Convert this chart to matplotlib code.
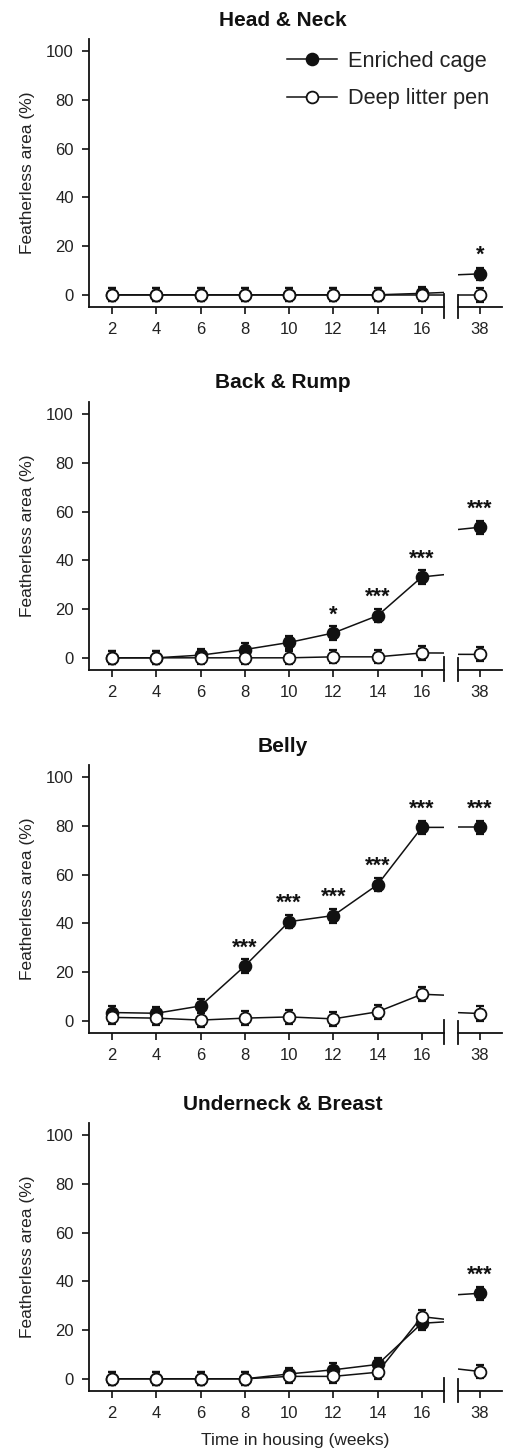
import numpy as np
import matplotlib
matplotlib.use('Agg')
import matplotlib.pyplot as plt
from matplotlib.lines import Line2D

plt.rcParams['font.family'] = ['Liberation Sans', 'DejaVu Sans']

# data
weeks = [2, 4, 6, 8, 10, 12, 14, 16, 38]
week_labels = ['2', '4', '6', '8', '10', '12', '14', '16', '38']
titles = ['Head & Neck', 'Back & Rump', 'Belly', 'Underneck & Breast']

head_cage = [0, 0, 0, 0, 0, 0, 0, 0.6, 8.6]
head_pen = [0, 0, 0, 0, 0, 0, 0, 0, 0]
head_cage_se = [2.7, 2.7, 2.7, 2.7, 2.7, 2.7, 2.7, 2.7, 2.6]
head_pen_se = [2.7, 2.7, 2.7, 2.7, 2.7, 2.7, 2.7, 2.7, 2.8]
head_sig = ['', '', '', '', '', '', '', '', '*']

back_cage = [0, 0, 1.1, 3.4, 6.3, 10.2, 17.3, 33.2, 53.6]
back_pen = [0, 0, 0, 0, 0, 0.4, 0.4, 2.0, 1.4]
back_cage_se = [2.7, 2.7, 2.7, 2.7, 2.8, 2.9, 2.8, 2.7, 2.6]
back_pen_se = [2.7, 2.7, 2.7, 2.7, 2.7, 2.7, 2.7, 2.8, 2.9]
back_sig = ['', '', '', '', '', '*', '***', '***', '***']

belly_cage = [3.4, 3.1, 6.1, 22.5, 40.7, 43.2, 55.9, 79.4, 79.4]
belly_pen = [1.4, 1.1, 0.3, 1.1, 1.6, 0.8, 3.7, 10.9, 3.0]
belly_cage_se = [2.6, 2.6, 2.7, 2.8, 2.8, 2.9, 2.8, 2.6, 2.6]
belly_pen_se = [2.7, 2.7, 2.8, 2.8, 2.8, 2.8, 2.9, 2.8, 2.9]
belly_sig = ['', '', '', '***', '***', '***', '***', '***', '***']

breast_cage = [0, 0, 0, 0, 2.0, 3.7, 5.9, 22.8, 35.1]
breast_pen = [0, 0, 0, 0, 1.0, 1.0, 2.7, 25.5, 3.0]
breast_cage_se = [2.7, 2.7, 2.7, 2.7, 2.6, 2.6, 2.6, 2.9, 2.7]
breast_pen_se = [2.7, 2.7, 2.7, 2.7, 2.7, 2.7, 2.8, 2.9, 2.8]
breast_sig = ['', '', '', '', '', '', '', '', '***']

cage = [head_cage, back_cage, belly_cage, breast_cage]
pen = [head_pen, back_pen, belly_pen, breast_pen]
cage_se = [head_cage_se, back_cage_se, belly_cage_se, breast_cage_se]
pen_se = [head_pen_se, back_pen_se, belly_pen_se, breast_pen_se]
sig = [head_sig, back_sig, belly_sig, breast_sig]

W, H = 505, 1452
fig = plt.figure(figsize=(W / 100, H / 100), dpi=100)

axis_bottom = [307, 670, 1033, 1391]   # pixel rows of the x axis line
ax_h = 268
ink = '#111111'

def draw_series(ax, y, se, face):
    ax.errorbar(weeks, y, yerr=se, fmt='none', ecolor=ink, elinewidth=1.4,
                capsize=3.0, capthick=1.6, zorder=2)
    ax.plot(weeks, y, color=ink, lw=1.1, marker='o', ms=8.5,
            mfc=face, mec=ink, mew=1.3, zorder=3)

for i in range(4):
    b = 1 - axis_bottom[i] / H
    h = ax_h / H
    axl = fig.add_axes([89 / W, b, (444 - 89) / W, h])
    axr = fig.add_axes([458 / W, b, (502 - 458) / W, h], sharey=axl)
    for ax in (axl, axr):
        draw_series(ax, cage[i], cage_se[i], ink)
        draw_series(ax, pen[i], pen_se[i], 'white')
        ax.set_ylim(-5, 105)
        ax.spines['top'].set_visible(False)
        ax.spines['right'].set_visible(False)
        ax.spines['bottom'].set_linewidth(1.3)
        ax.spines['left'].set_linewidth(1.3)
        ax.spines['bottom'].set_color(ink)
        ax.spines['left'].set_color(ink)
        ax.tick_params(direction='out', length=5, width=1.2, pad=6, colors=ink)
        ax.set_xticks(weeks)
        ax.set_xticklabels(week_labels, fontsize=12, color='#222222')
        ax.set_facecolor('none')
    axl.set_xlim(0.96, 17.0)
    axr.set_xlim(37.0, 39.0)
    axr.spines['left'].set_visible(False)
    axr.tick_params(axis='y', left=False, labelleft=False)
    axl.set_yticks([0, 20, 40, 60, 80, 100])
    axl.set_yticklabels(['0', '20', '40', '60', '80', '100'], fontsize=12,
                        color='#222222')
    axl.set_ylabel('Featherless area (%)', fontsize=12.5, labelpad=8, color='#222222')

    # axis break marks
    axl.plot([1, 1], [-0.04, 0.05], transform=axl.transAxes, color=ink,
             lw=1.3, clip_on=False)
    axr.plot([0, 0], [-0.04, 0.045], transform=axr.transAxes, color=ink,
             lw=1.3, clip_on=False)

    # significance stars
    for x, y, s in zip(weeks, cage[i], sig[i]):
        if s:
            target = axr if x > 17 else axl
            target.text(x, y + 5.2, s, ha='center', va='baseline', fontsize=15.5,
                        fontweight='bold', color=ink)

    fig.text(283 / W, 1 - (axis_bottom[i] - ax_h - 19) / H, titles[i],
             ha='center', va='center', fontsize=15, fontweight='bold', color=ink)

    if i == 0:
        handles = [Line2D([], [], color=ink, lw=1.1, marker='o', ms=8.5,
                          mfc=ink, mec=ink, mew=1.3),
                   Line2D([], [], color=ink, lw=1.1, marker='o', ms=8.5,
                          mfc='white', mec=ink, mew=1.3)]
        fig.legend(handles, ['Enriched cage', 'Deep litter pen'], loc='upper left',
                   bbox_to_anchor=(287 / W, 1 - 51 / H), frameon=False,
                   fontsize=15.7, handlelength=2.3, handletextpad=0.5,
                   labelspacing=0.75, borderpad=0, borderaxespad=0,
                   labelcolor='#222222')

fig.text(295 / W, 1 - 1440 / H, 'Time in housing (weeks)', ha='center',
         va='center', fontsize=12.5, color='#222222')

fig.savefig('out.png', dpi=100)
